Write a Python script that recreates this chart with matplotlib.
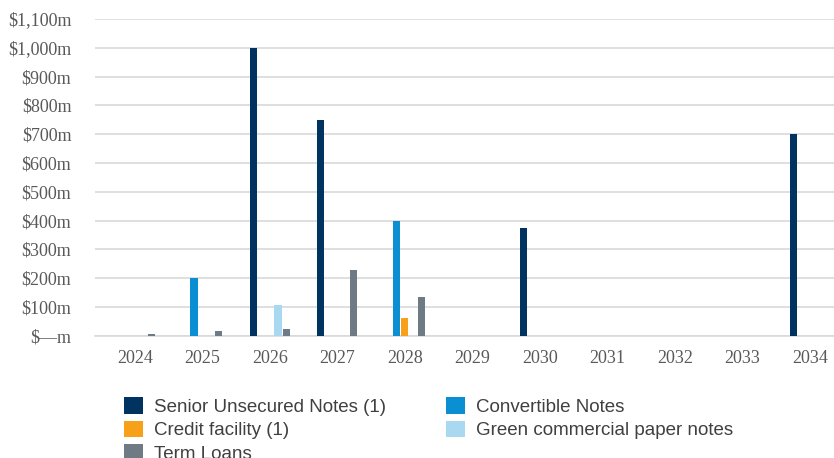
import matplotlib
matplotlib.use("Agg")
import matplotlib.pyplot as plt
import numpy as np
from matplotlib.patches import Patch

years = ["2024", "2025", "2026", "2027", "2028", "2029", "2030", "2031", "2032", "2033", "2034"]
series_names = ["Senior Unsecured Notes (1)", "Convertible Notes", "Credit facility (1)",
                "Green commercial paper notes", "Term Loans"]
senior_notes = [0, 0, 1000, 750, 0, 0, 375, 0, 0, 0, 700]
convertible_notes = [0, 200, 0, 0, 400, 0, 0, 0, 0, 0, 0]
credit_facility = [0, 0, 0, 0, 63, 0, 0, 0, 0, 0, 0]
green_cp_notes = [0, 0, 107, 0, 0, 0, 0, 0, 0, 0, 0]
term_loans = [7, 17, 23, 228, 133, 0, 0, 0, 0, 0, 0]
colors = ["#00335F", "#0B8FD3", "#F7A11A", "#A9D9F0", "#6E7A84"]
ytick_values = [0, 100, 200, 300, 400, 500, 600, 700, 800, 900, 1000, 1100]
ytick_labels = ["$—m", "$100m", "$200m", "$300m", "$400m", "$500m", "$600m",
                "$700m", "$800m", "$900m", "$1,000m", "$1,100m"]

data = [senior_notes, convertible_notes, credit_facility, green_cp_notes, term_loans]

fig = plt.figure(figsize=(8.34, 4.58), dpi=100)
ax = fig.add_axes([95 / 834, (458 - 335.7) / 458, 1 - 95 / 834, (335.7 - 19) / 458])

x = np.arange(len(years))
step = 0.122
width = 0.108
for i, (vals, col) in enumerate(zip(data, colors)):
    ax.bar(x + (i - 2) * step, vals, width=width, color=col, zorder=3)

ax.set_xlim(-0.59, 10.36)
ax.set_ylim(0, 1100)
ax.set_yticks(ytick_values)
ax.set_yticklabels(ytick_labels)
ax.set_xticks(x)
ax.set_xticklabels(years)
serif = "Liberation Serif"
for lab in ax.get_yticklabels() + ax.get_xticklabels():
    lab.set_fontfamily(serif)
    lab.set_fontsize(13)
    lab.set_color("#595959")
ax.tick_params(axis="both", length=0)
ax.tick_params(axis="y", pad=17)
ax.tick_params(axis="x", pad=10)
ax.grid(axis="y", color="#D9D9D9", linewidth=1.2, zorder=0)
for s in ["top", "right", "left"]:
    ax.spines[s].set_visible(False)
ax.spines["bottom"].set_color("#D9D9D9")
ax.spines["bottom"].set_linewidth(1.2)

order = [0, 2, 4, 1, 3]
handles = [Patch(facecolor=colors[k], edgecolor="none") for k in order]
labels = [series_names[k] for k in order]
leg = fig.legend(handles, labels, ncol=2, loc="upper left",
                 bbox_to_anchor=(124 / 834, 1 - 397 / 458), frameon=False,
                 prop={"family": "Liberation Sans", "size": 13.5},
                 handlelength=1.0, handleheight=1.0, handletextpad=0.6,
                 labelspacing=0.25, columnspacing=3.2, borderpad=0, borderaxespad=0)
for t in leg.get_texts():
    t.set_color("#404040")

fig.savefig("out.png", dpi=100)
